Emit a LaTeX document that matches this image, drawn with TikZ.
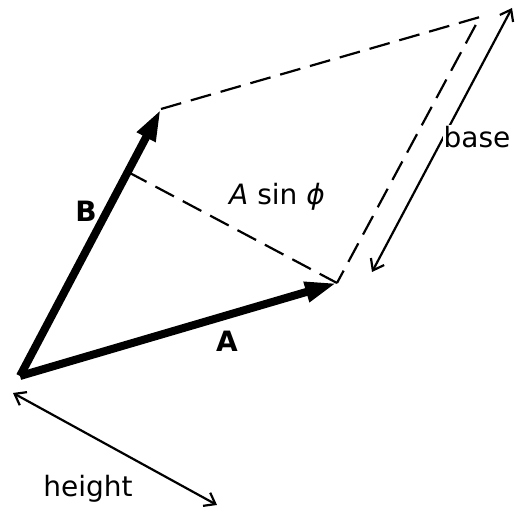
\documentclass[tikz,border=0pt]{standalone}
\usepackage{fontspec}
\setmainfont{DejaVu Sans}
\usepackage{tikz}
\usetikzlibrary{arrows.meta}

\begin{document}
\begin{tikzpicture}[
    x=1pt, y=-1pt,
    vec/.style={line width=8pt, -{Triangle[length=32pt,width=19pt]}},
    aux/.style={line width=2.2pt, dash pattern=on 21pt off 10pt},
    dim/.style={line width=2.2pt, {Straight Barb[length=10pt,width=15pt]}-{Straight Barb[length=10pt,width=15pt]}},
    lbl/.style={font=\fontsize{28}{32}\selectfont, inner sep=0pt}
  ]
  \useasboundingbox (0,0) rectangle (523,510);
  % corners of the parallelogram
  \coordinate (o) at (20, 376);
  \coordinate (a) at (337, 283);
  \coordinate (b) at (161, 109);
  \coordinate (c) at (480, 17);
  \coordinate (f) at (128, 172);
  % dashed sides and perpendicular
  \draw[aux] (b) -- (c) -- (a);
  \draw[aux] (f) -- (a);
  % the two vectors
  \draw[vec] (o) -- (a);
  \draw[vec] (o) -- (b);
  % dimension arrows
  \coordinate (b1) at (372, 272);
  \coordinate (b2) at (512, 8);
  \coordinate (h1) at (13, 393);
  \coordinate (h2) at (217, 505);
  \draw[dim] (b1) -- (b2);
  \draw[dim] (h1) -- (h2);
  % labels
  \node[lbl, fill=white, inner sep=1pt] (base) at (477, 137) {base};
  \node[lbl] (height) at (88, 489) {height};
  \node[lbl] (asin) at (277, 197) {\textit{A} sin \textit{ϕ}};
  \node[lbl, font=\fontsize{28}{32}\selectfont\bfseries] (lb) at (86, 211) {B};
  \node[lbl, font=\fontsize{28}{32}\selectfont\bfseries] (la) at (227, 341) {A};
\end{tikzpicture}
\end{document}
